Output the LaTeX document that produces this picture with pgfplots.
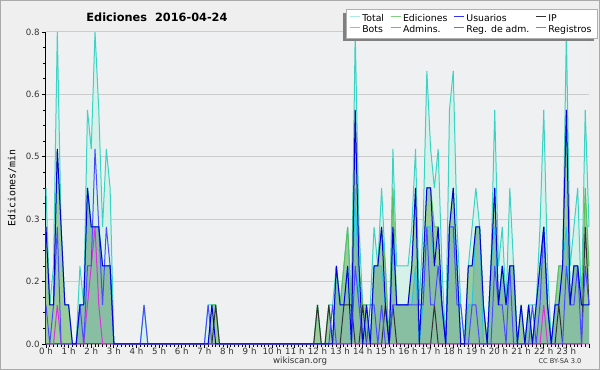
\documentclass[border=0pt]{standalone}
\usepackage{fontspec}
\setmainfont{DejaVu Sans}
\newfontfamily\monofont{DejaVu Sans Mono}
\usepackage{pgfplots}
\usepackage{pgfplotstable}
\pgfplotsset{compat=1.18}
\definecolor{bgc}{HTML}{EFEFEF}
\definecolor{framec}{HTML}{AAAAAA}
\definecolor{plotbg}{HTML}{EEF0F2}
\definecolor{gridc}{HTML}{CCCCCC}
\definecolor{labc}{HTML}{333333}
\definecolor{legc}{HTML}{B0B0B0}
\definecolor{shadc}{HTML}{808080}
\definecolor{tfill}{HTML}{D6F1EA}
\definecolor{tline}{HTML}{3CD2C4}
\definecolor{tleg}{HTML}{A8ECE4}
\definecolor{efill}{HTML}{9ACD9A}
\definecolor{eline}{HTML}{5CC05C}
\definecolor{eleg}{HTML}{80D080}
\definecolor{afill}{HTML}{88BEA2}
\definecolor{aline}{HTML}{2CC6E0}
\definecolor{uline}{HTML}{0000DD}
\definecolor{uleg}{HTML}{3333EE}
\definecolor{rline}{HTML}{4A4AFF}
\definecolor{rleg}{HTML}{7777FF}
\definecolor{iline}{HTML}{333333}
\definecolor{mline}{HTML}{DD33DD}
\definecolor{bline}{HTML}{FFA030}

\pgfplotstableread{
b T E U R A M I
0 0.4 0.3 0.3 0.1 0 0 0
1 0.1 0.1 0.1 0 0 0 0
2 0.2 0.1 0.1 0.1 0 0 0
3 0.8 0.5 0.5 0.3 0 0.1 0
4 0.3 0.3 0.3 0 0 0 0
5 0.1 0.1 0.1 0 0 0 0
6 0.1 0.1 0.1 0 0 0 0
7 0 0 0 0 0 0 0
8 0 0 0 0 0 0 0
9 0.2 0.1 0.1 0.1 0.1 0 0
10 0.1 0.1 0.1 0 0.1 0 0
11 0.6 0.4 0.4 0.2 0.4 0.1 0
12 0.5 0.3 0.3 0.2 0.3 0.2 0
13 0.8 0.3 0.3 0.5 0.3 0.3 0
14 0.6 0.3 0.3 0.3 0.3 0.1 0
15 0.3 0.2 0.2 0.1 0.2 0 0
16 0.5 0.2 0.2 0.3 0.2 0 0
17 0.4 0.2 0.2 0.2 0.2 0 0
18 0 0 0 0 0 0 0
19 0 0 0 0 0 0 0
20 0 0 0 0 0 0 0
21 0 0 0 0 0 0 0
22 0 0 0 0 0 0 0
23 0 0 0 0 0 0 0
24 0 0 0 0 0 0 0
25 0 0 0 0 0 0 0
26 0.1 0 0 0.1 0 0 0
27 0 0 0 0 0 0 0
28 0 0 0 0 0 0 0
29 0 0 0 0 0 0 0
30 0 0 0 0 0 0 0
31 0 0 0 0 0 0 0
32 0 0 0 0 0 0 0
33 0 0 0 0 0 0 0
34 0 0 0 0 0 0 0
35 0 0 0 0 0 0 0
36 0 0 0 0 0 0 0
37 0 0 0 0 0 0 0
38 0 0 0 0 0 0 0
39 0 0 0 0 0 0 0
40 0 0 0 0 0 0 0
41 0 0 0 0 0 0 0
42 0 0 0 0 0 0 0
43 0.1 0 0 0.1 0 0 0
44 0.1 0.1 0.1 0 0 0 0
45 0.1 0.1 0 0 0 0 0.1
46 0 0 0 0 0 0 0
47 0 0 0 0 0 0 0
48 0 0 0 0 0 0 0
49 0 0 0 0 0 0 0
50 0 0 0 0 0 0 0
51 0 0 0 0 0 0 0
52 0 0 0 0 0 0 0
53 0 0 0 0 0 0 0
54 0 0 0 0 0 0 0
55 0 0 0 0 0 0 0
56 0 0 0 0 0 0 0
57 0 0 0 0 0 0 0
58 0 0 0 0 0 0 0
59 0 0 0 0 0 0 0
60 0 0 0 0 0 0 0
61 0 0 0 0 0 0 0
62 0 0 0 0 0 0 0
63 0 0 0 0 0 0 0
64 0 0 0 0 0 0 0
65 0 0 0 0 0 0 0
66 0 0 0 0 0 0 0
67 0 0 0 0 0 0 0
68 0 0 0 0 0 0 0
69 0 0 0 0 0 0 0
70 0 0 0 0 0 0 0
71 0 0 0 0 0 0 0
72 0.1 0.1 0 0 0 0 0.1
73 0 0 0 0 0 0 0
74 0 0 0 0 0 0 0
75 0.1 0.1 0 0 0 0 0.1
76 0.1 0 0 0.1 0 0 0
77 0.2 0.2 0.2 0 0.2 0 0
78 0.1 0.1 0.1 0 0.1 0 0
79 0.2 0.2 0.1 0 0.1 0 0.1
80 0.3 0.3 0.2 0 0.2 0 0.1
81 0.1 0.1 0 0 0 0 0.1
82 0.8 0.6 0.6 0.2 0.4 0 0
83 0.3 0.2 0.2 0.1 0.1 0 0
84 0.1 0.1 0 0 0 0 0.1
85 0.1 0.1 0.1 0 0.1 0 0
86 0.1 0 0 0.1 0 0 0
87 0.3 0.2 0.2 0.1 0.2 0 0
88 0.2 0.2 0.2 0 0.2 0 0
89 0.4 0.3 0.3 0.1 0.2 0 0
90 0.2 0.2 0.1 0 0.1 0 0.1
91 0 0 0 0 0 0 0
92 0.5 0.4 0.3 0.1 0.3 0 0.1
93 0.2 0.1 0.1 0.1 0.1 0 0
94 0.2 0.1 0.1 0.1 0.1 0 0
95 0.2 0.1 0.1 0.1 0.1 0 0
96 0.2 0.1 0.1 0.1 0.1 0 0
97 0.3 0.2 0.2 0.1 0.1 0 0
98 0.5 0.4 0.4 0.1 0.2 0 0
99 0.1 0 0 0.1 0 0 0
100 0.3 0.2 0.2 0.1 0.1 0 0
101 0.7 0.4 0.4 0.3 0.3 0 0
102 0.5 0.4 0.4 0.1 0.3 0 0
103 0.4 0.3 0.2 0.1 0.2 0 0.1
104 0.5 0.3 0.3 0.2 0.2 0 0
105 0.2 0.1 0.1 0.1 0.1 0 0
106 0 0 0 0 0 0 0
107 0.6 0.3 0.3 0.3 0.3 0 0
108 0.7 0.4 0.4 0.3 0.3 0 0
109 0.3 0.2 0.2 0.1 0.2 0 0
110 0.1 0 0 0.1 0 0 0
111 0 0 0 0 0 0 0
112 0.2 0.2 0.2 0 0.1 0 0
113 0.3 0.2 0.2 0.1 0.1 0 0
114 0.4 0.3 0.3 0.1 0.3 0 0
115 0.3 0.3 0.3 0 0.3 0 0
116 0.1 0.1 0.1 0 0 0 0
117 0 0 0 0 0 0 0
118 0.2 0.2 0.2 0 0.2 0 0
119 0.6 0.4 0.4 0.2 0.3 0 0
120 0.2 0.1 0.1 0.1 0.1 0 0
121 0.3 0.2 0.2 0.1 0.2 0 0
122 0.1 0.1 0.1 0 0.1 0 0
123 0.4 0.2 0.2 0.2 0.2 0 0
124 0.2 0.2 0.2 0 0.2 0 0
125 0 0 0 0 0 0 0
126 0.1 0.1 0.1 0 0 0 0
127 0 0 0 0 0 0 0
128 0.1 0.1 0.1 0 0.1 0 0
129 0.1 0 0 0.1 0 0 0
130 0.1 0.1 0.1 0 0.1 0 0
131 0.3 0.2 0.2 0.1 0.2 0 0
132 0.6 0.3 0.3 0.3 0.3 0.1 0
133 0.2 0.1 0.1 0.1 0.1 0 0
134 0 0 0 0 0 0 0
135 0.1 0.1 0.1 0 0.1 0 0
136 0.2 0.2 0.1 0 0.1 0 0.1
137 0.2 0.2 0.2 0 0.2 0 0
138 0.8 0.6 0.6 0.2 0.3 0 0
139 0.2 0.1 0.1 0.1 0.1 0 0
140 0.3 0.2 0.2 0.1 0.2 0 0
141 0.4 0.2 0.2 0.2 0.2 0 0
142 0.1 0.1 0.1 0 0.1 0 0
143 0.6 0.4 0.1 0.2 0.1 0 0.3
144 0.3 0.2 0.1 0.1 0.1 0 0.1
}\data

\begin{document}
\begin{tikzpicture}
\fill[bgc] (0,0) rectangle (450pt,277.5pt);
\draw[framec, line width=0.75pt] (0.375pt,0.375pt) rectangle (449.625pt,277.125pt);
\begin{axis}[
  at={(34.5pt,19.5pt)}, anchor=south west,
  scale only axis, width=407.25pt, height=234pt,
  xmin=0, xmax=144, ymin=0, ymax=0.8,
  axis x line*=bottom, axis y line*=left,
  axis line style={black, line width=0.75pt},
  axis background/.style={fill=plotbg},
  ymajorgrids, grid style={gridc, line width=0.75pt},
  tick align=outside, tick style={black, line width=0.6pt},
  major tick length=3pt, minor tick length=2.25pt,
  xtick={0,6,...,144},
  xticklabels={0 h,1 h,2 h,3 h,4 h,5 h,6 h,7 h,8 h,9 h,10 h,11 h,12 h,13 h,14 h,15 h,16 h,17 h,18 h,19 h,20 h,21 h,22 h,23 h,{}},
  minor x tick num=5,
  ytick={0,0.16,0.32,0.48,0.64,0.8},
  yticklabels={0.0,0.2,0.3,0.5,0.6,0.8},
  minor y tick num=3,
  tick label style={font=\fontsize{6.5}{7}\selectfont, text=labc},
  /pgf/number format/assume math mode=true,
  xticklabel style={inner sep=1pt, yshift=1.5pt},
  yticklabel style={inner sep=1.5pt},
  clip=false,
  legend columns=4,
  legend cell align=left,
  legend image code/.code={\draw[#1] (0pt,2.3pt) -- (7.5pt,2.3pt);},
  legend style={at={(0.5580,1.0593)}, anchor=north west, draw=none, fill=none,
    font=\fontsize{7}{8}\selectfont, inner sep=0pt, row sep=0pt,
    nodes={inner ysep=0.4pt, inner xsep=1.5pt, text height=5.6pt, text depth=1.8pt},
    /tikz/every even column/.append style={column sep=3pt}},
]
\addplot[draw=none, fill=tfill, forget plot] table[x=b, y=T] {\data} \closedcycle;
\addplot[draw=none, fill=efill, forget plot] table[x=b, y=E] {\data} \closedcycle;
\addplot[draw=none, fill=afill, forget plot] table[x=b, y=A] {\data} \closedcycle;
\addplot[tline, line width=0.75pt, forget plot] table[x=b, y=T] {\data};
\addplot[eline, line width=0.75pt, forget plot] table[x=b, y=E] {\data};
\addplot[aline, line width=0.75pt, forget plot] table[x=b, y=A] {\data};
\addplot[iline, line width=0.75pt, forget plot] table[x=b, y=I] {\data};
\addplot[mline, line width=0.75pt, forget plot] table[x=b, y=M] {\data};
\addplot[rline, line width=0.75pt, forget plot] table[x=b, y=R] {\data};
\addplot[uline, line width=0.75pt, forget plot] table[x=b, y=U] {\data};
\fill[shadc] (rel axis cs:0.54696,0.97019) rectangle (rel axis cs:1.00921,1.06090);
\filldraw[fill=white, draw=legc, line width=0.75pt] (rel axis cs:0.5525,0.97981) rectangle (rel axis cs:1.01473,1.07051);
\addlegendimage{tleg, line width=0.75pt}\addlegendentry{Total}
\addlegendimage{eleg, line width=0.75pt}\addlegendentry{Ediciones}
\addlegendimage{uleg, line width=0.75pt}\addlegendentry{Usuarios}
\addlegendimage{iline, line width=0.75pt}\addlegendentry{IP}
\addlegendimage{bline, line width=0.75pt}\addlegendentry{Bots}
\addlegendimage{aline, line width=0.75pt}\addlegendentry{Admins.}
\addlegendimage{mline, line width=0.75pt}\addlegendentry{Reg. de adm.}
\addlegendimage{rleg, line width=0.75pt}\addlegendentry{Registros}
\end{axis}
\node[font=\bfseries\fontsize{8.5}{10}\selectfont] at (117.75pt,264.75pt) {Ediciones\ \ 2016-04-24};
\node[rotate=90, font=\monofont\fontsize{7.4}{8}\selectfont] at (9pt,136.5pt) {Ediciones/min};
\node[font=\fontsize{6.5}{7}\selectfont, text=labc] at (225pt,6.75pt) {wikiscan.org};
\node[font=\fontsize{5}{6}\selectfont, text=labc] at (420pt,6.75pt) {CC BY-SA 3.0};
\pgfresetboundingbox
\path[use as bounding box] (0,0) rectangle (450pt,277.5pt);
\end{tikzpicture}
\end{document}
